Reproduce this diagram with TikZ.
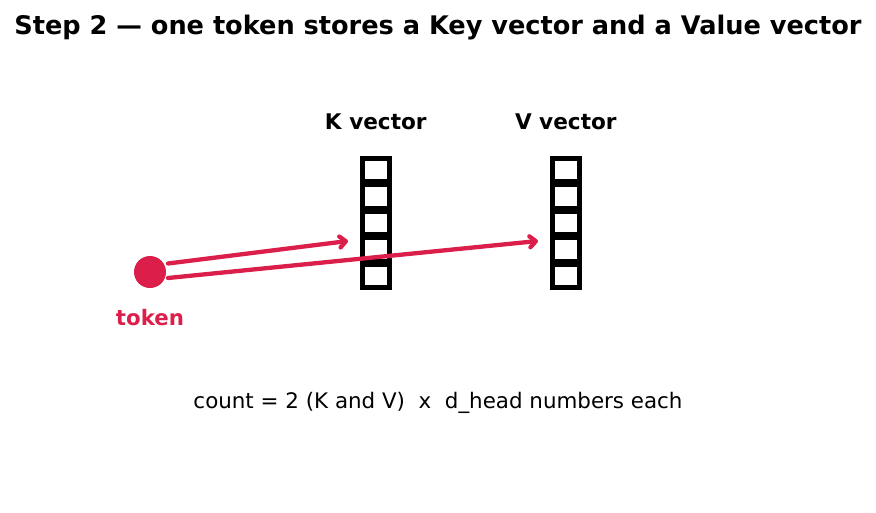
\documentclass[tikz,border=0pt]{standalone}
\usepackage{fontspec}
\setmainfont{DejaVu Sans}
\usetikzlibrary{arrows.meta}
\definecolor{tokred}{RGB}{220,30,75}
\tikzset{
  cellbox/.style={draw=black, line width=4.5pt, minimum width=27pt, minimum height=23.3pt, inner sep=0pt, fill=white},
  arr/.style={draw=tokred, line width=4.3pt, line cap=round, -{Straight Barb[length=6pt,width=11pt,line cap=round,line join=round]}},
  lbl/.style={font=\bfseries\fontsize{21.6}{25}\selectfont, inner sep=0pt},
}
\begin{document}
\begin{tikzpicture}[x=1pt,y=-1pt]
\useasboundingbox (0,0) rectangle (876,512);
\node[font=\bfseries\fontsize{25.6}{30}\selectfont, inner sep=0pt] (title) at (438,28) {Step 2 — one token stores a Key vector and a Value vector};
\node[lbl] (klbl) at (375.8,122) {K vector};
\node[lbl] (vlbl) at (565.8,122) {V vector};
\foreach \i in {0,...,4} {
  \node[cellbox] (k\i) at (375.8,{170+26.5*\i}) {};
  \node[cellbox] (v\i) at (565.8,{170+26.5*\i}) {};
}
\node[circle, fill=tokred, minimum size=32pt, inner sep=0pt] (tok) at (150,272) {};
\node[font=\bfseries\fontsize{21.3}{25}\selectfont, text=tokred, inner sep=0pt] (toklbl) at (150,318) {token};
\coordinate (ktip) at (348,241);
\coordinate (vtip) at (538,241);
\draw[arr] (168,263.5) -- (ktip);
\draw[arr] (168,278) -- (vtip);
\node[font=\fontsize{21.4}{25}\selectfont, inner sep=0pt] (count) at (438,403) {count = 2 (K and V) \ x \ d\_head numbers each};
\end{tikzpicture}
\end{document}
